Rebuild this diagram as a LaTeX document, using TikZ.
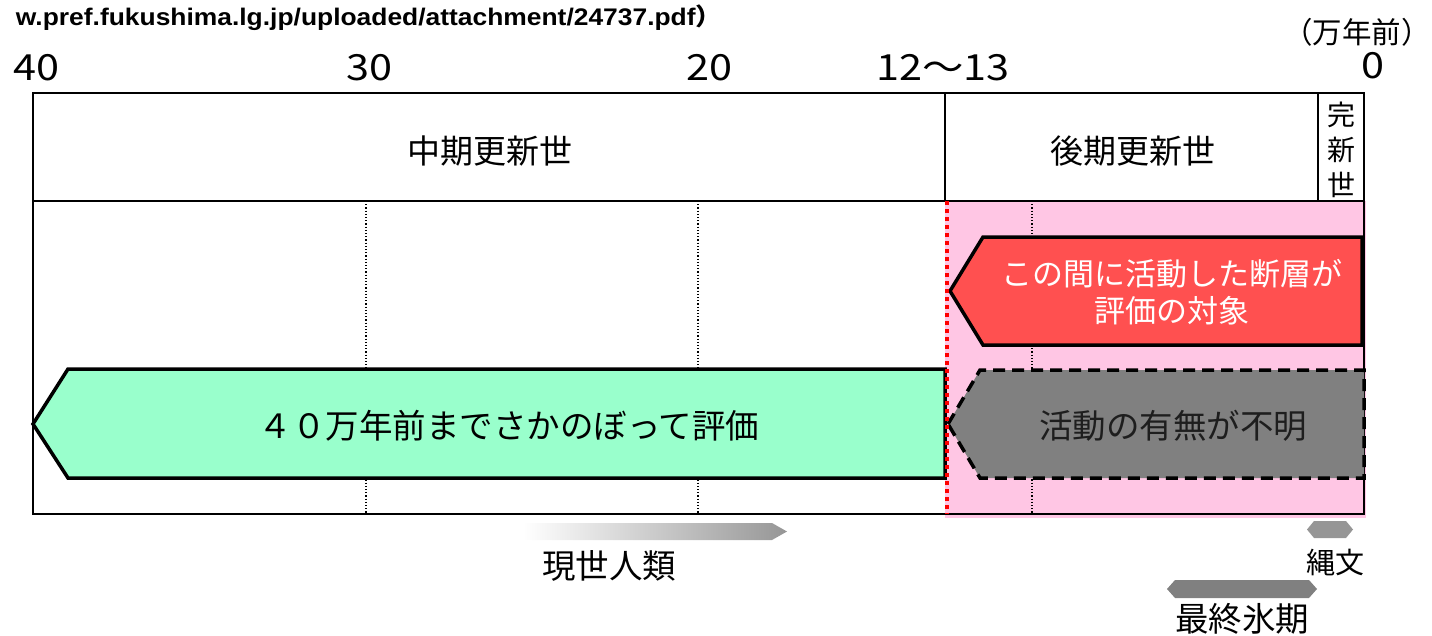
\documentclass[tikz,border=0pt]{standalone}
\usepackage{fontspec}
\setmainfont{Noto Sans CJK JP}
\newfontfamily\urlfont{Liberation Sans}
\newcommand\fsz[1]{\fontsize{#1}{#1}\selectfont}
\newcommand\widenum[1]{\scalebox{1.15}[1]{#1}}
\definecolor{pinkbg}{RGB}{255,198,228}
\definecolor{redfill}{RGB}{255,80,80}
\definecolor{greenfill}{RGB}{153,255,204}
\definecolor{grayfill}{RGB}{128,128,128}
\definecolor{darktext}{RGB}{30,30,30}
\definecolor{hexgray}{RGB}{150,150,150}
\definecolor{hexdark}{RGB}{128,128,128}
\begin{document}
\begin{tikzpicture}[x=1pt,y=-1pt,
  every node/.style={inner sep=0pt, outer sep=0pt},
  axislbl/.style={font=\fsz{36}},
  headlbl/.style={font=\fsz{33}},
  arrowtxt/.style={font=\fsz{33.5}},
  smalllbl/.style={font=\fsz{33.5}},
  gridline/.style={line width=1.2pt, dash pattern=on 1.2pt off 2pt},
  boxline/.style={line width=2pt},
  arrowborder/.style={line width=3.5pt, line join=miter},
]
\useasboundingbox (0,0) rectangle (1432,635);

% pink evaluated region
\fill[pinkbg] (945,201) rectangle (1366,518);

% dotted grid lines
\draw[gridline] (366,201) -- (366,514);
\draw[gridline] (698,201) -- (698,514);
\draw[gridline] (1032,201) -- (1032,514);

% main frame
\draw[boxline] (33,93) rectangle (1364,514);
\draw[boxline] (33,201) -- (1364,201);
\draw[boxline] (945,93) -- (945,201);
\draw[boxline] (1318,93) -- (1318,201);

% top source text
\node[font=\urlfont\bfseries\fsz{24}, anchor=east] (src) at (722,18)
  {\scalebox{1.1}[1]{w.pref.fukushima.lg.jp/uploaded/attachment/24737.pdf\fontspec{Noto Sans CJK JP}）}};

% axis labels
\node[axislbl] (t40) at (36,68) {\widenum{40}};
\node[axislbl] (t30) at (369,68) {\widenum{30}};
\node[axislbl] (t20) at (709,68) {\widenum{20}};
\node[axislbl] (t12) at (943,68) {\widenum{12～13}};
\node[axislbl] (t0) at (1373,66) {\widenum{0}};
\node[font=\fsz{29.5}] (unit) at (1357,32) {（万年前）};

% header labels
\node[headlbl] (mid) at (490,151) {中期更新世};
\node[headlbl] (late) at (1133,151) {後期更新世};
\node[font=\fsz{28}, align=center] (holo) at (1341,150) {完\\[7pt]新\\[7pt]世};

% arrows
\draw[arrowborder, fill=greenfill] (33,424) -- (68,369) -- (945,369) -- (945,478) -- (68,478) -- cycle;
\node[arrowtxt] (greentxt) at (509,426) {４０万年前までさかのぼって評価};

\draw[arrowborder, fill=redfill] (950,291) -- (983,237) -- (1362,237) -- (1362,345) -- (983,345) -- cycle;
\node[font=\fsz{31}, text=white, align=center] (redtxt) at (1172,292) {この間に活動した断層が\\[6pt]評価の対象};

\draw[line width=3.5pt, dash pattern=on 12pt off 7pt, fill=grayfill] (948,424) -- (980,370) -- (1364,370) -- (1364,478) -- (980,478) -- cycle;
\node[arrowtxt, text=darktext] (graytxt) at (1173,426) {活動の有無が不明};

% red dotted boundary
\draw[red, line width=4pt, dash pattern=on 4pt off 4pt] (947,201) -- (947,514);

% bottom items
\shade[left color=white, right color=hexgray] (523,523) -- (772,523) -- (787,531.5) -- (772,540) -- (523,540) -- cycle;
\node[smalllbl] (human) at (609,566) {現世人類};

\fill[hexgray] (1307,529.5) -- (1314,521) -- (1346,521) -- (1353,529.5) -- (1346,538) -- (1314,538) -- cycle;
\node[font=\fsz{29}] (jomon) at (1335,562) {縄文};

\fill[hexdark] (1167,589) -- (1175,580) -- (1309,580) -- (1317,589) -- (1309,598) -- (1175,598) -- cycle;
\node[smalllbl] (lgm) at (1242,619) {最終氷期};
\end{tikzpicture}
\end{document}
